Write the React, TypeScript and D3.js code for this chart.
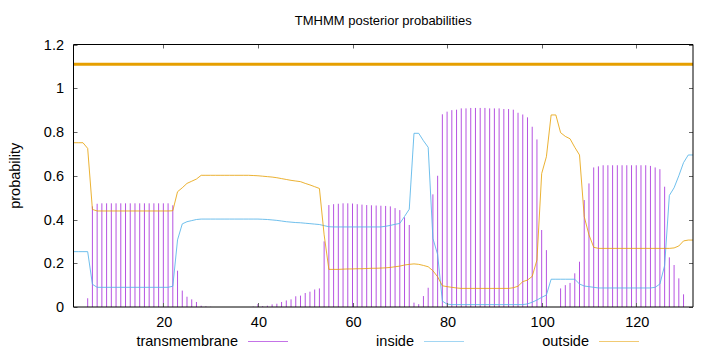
import React, { useEffect, useRef } from 'react';
import * as d3 from 'd3';

// posterior probabilities per residue (position 1..132)
const transmembrane = [
  0, 0, 0, 0.04, 0.46, 0.472, 0.474, 0.474, 0.474, 0.474,
  0.474, 0.474, 0.474, 0.474, 0.474, 0.474, 0.474, 0.474, 0.474, 0.474,
  0.474, 0.465, 0.166, 0.075, 0.047, 0.035, 0.023, 0.006, 0.003, 0.001,
  0, 0, 0, 0, 0, 0, 0, 0, 0.002, 0.014,
  0.004, 0.006, 0.012, 0.015, 0.023, 0.03, 0.035, 0.049, 0.052, 0.064,
  0.07, 0.08, 0.085, 0.3, 0.466, 0.47, 0.472, 0.474, 0.474, 0.473,
  0.47, 0.468, 0.466, 0.465, 0.464, 0.463, 0.462, 0.46, 0.452, 0.443,
  0.41, 0.375, 0.02, 0.013, 0.05, 0.088, 0.515, 0.6, 0.881, 0.893,
  0.9, 0.902, 0.908, 0.908, 0.91, 0.91, 0.91, 0.91, 0.908, 0.908,
  0.908, 0.905, 0.905, 0.902, 0.888, 0.88, 0.867, 0.824, 0.766, 0.352,
  0.26, 0, 0, 0.085, 0.1, 0.11, 0.154, 0.207, 0.489, 0.565,
  0.638, 0.643, 0.648, 0.648, 0.648, 0.648, 0.648, 0.648, 0.648, 0.648,
  0.648, 0.648, 0.645, 0.638, 0.63, 0.55, 0.227, 0.192, 0.131, 0.058,
  0, 0,
];

const inside = [
  0.253, 0.253, 0.253, 0.253, 0.104, 0.09, 0.09, 0.09, 0.09, 0.09,
  0.09, 0.09, 0.09, 0.09, 0.09, 0.09, 0.09, 0.09, 0.09, 0.09,
  0.09, 0.095, 0.307, 0.38, 0.39, 0.395, 0.4, 0.402, 0.402, 0.402,
  0.402, 0.402, 0.402, 0.402, 0.402, 0.402, 0.402, 0.402, 0.402, 0.402,
  0.401, 0.4, 0.398, 0.396, 0.393, 0.39, 0.388, 0.386, 0.385, 0.383,
  0.381, 0.379, 0.377, 0.372, 0.367, 0.366, 0.366, 0.366, 0.366, 0.366,
  0.366, 0.366, 0.366, 0.366, 0.366, 0.366, 0.369, 0.373, 0.378, 0.382,
  0.414, 0.447, 0.794, 0.794, 0.76, 0.73, 0.314, 0.24, 0.027, 0.013,
  0.011, 0.011, 0.011, 0.011, 0.011, 0.011, 0.011, 0.011, 0.011, 0.011,
  0.011, 0.011, 0.011, 0.011, 0.011, 0.011, 0.014, 0.022, 0.032, 0.044,
  0.055, 0.127, 0.127, 0.127, 0.127, 0.127, 0.127, 0.105, 0.096, 0.093,
  0.09, 0.087, 0.087, 0.087, 0.087, 0.087, 0.087, 0.087, 0.087, 0.087,
  0.087, 0.087, 0.087, 0.09, 0.105, 0.19, 0.51, 0.545, 0.6, 0.66,
  0.695, 0.695,
];

const outside = [
  0.751, 0.751, 0.751, 0.725, 0.446, 0.439, 0.439, 0.439, 0.439, 0.439,
  0.439, 0.439, 0.439, 0.439, 0.439, 0.439, 0.439, 0.439, 0.439, 0.439,
  0.439, 0.44, 0.527, 0.545, 0.565, 0.575, 0.585, 0.602, 0.602, 0.602,
  0.602, 0.602, 0.602, 0.602, 0.602, 0.602, 0.602, 0.602, 0.601, 0.6,
  0.598, 0.596, 0.594, 0.591, 0.587, 0.583, 0.579, 0.576, 0.573, 0.565,
  0.558, 0.55, 0.542, 0.33, 0.172, 0.172, 0.172, 0.173, 0.174, 0.174,
  0.175, 0.175, 0.176, 0.177, 0.177, 0.178, 0.179, 0.181, 0.184, 0.187,
  0.192, 0.195, 0.197, 0.195, 0.19, 0.184, 0.166, 0.138, 0.097, 0.093,
  0.09, 0.087, 0.085, 0.085, 0.085, 0.085, 0.085, 0.085, 0.085, 0.085,
  0.085, 0.085, 0.085, 0.088, 0.095, 0.116, 0.123, 0.14, 0.215, 0.61,
  0.687, 0.878, 0.878, 0.797, 0.78, 0.769, 0.73, 0.695, 0.413, 0.33,
  0.273, 0.268, 0.268, 0.268, 0.268, 0.268, 0.268, 0.268, 0.268, 0.268,
  0.268, 0.268, 0.268, 0.268, 0.268, 0.268, 0.268, 0.27, 0.279, 0.302,
  0.306, 0.306,
];

// predicted topology drawn above the curves
const topology = [{ start: 1, end: 132, region: 'outside' }];
const topologyLevel = 1.11;

const xTicks = [20, 40, 60, 80, 100, 120];
const yTicks = [0, 0.2, 0.4, 0.6, 0.8, 1, 1.2];

const COLORS = { transmembrane: '#9400d3', inside: '#56b4e9', outside: '#e69f00' };
const FONT = '"Liberation Sans", Arial, sans-serif';
const FS = '14.5px';

const App: React.FC = () => {
  const svgRef = useRef<SVGSVGElement>(null);

  useEffect(() => {
    if (!svgRef.current) return;
    const svg = d3.select(svgRef.current);
    svg.selectAll('*').remove();

    const left = 73.5, right = 693, top = 44.5, bottom = 307;
    const n = transmembrane.length;

    const x = d3.scaleLinear().domain([1, n]).range([left, right]);
    const y = d3.scaleLinear().domain([0, 1.2]).range([bottom, top]);

    // title
    svg.append('text')
      .attr('x', (left + right) / 2)
      .attr('y', 25)
      .attr('text-anchor', 'middle')
      .style('font-family', FONT)
      .style('font-size', '13px')
      .text('TMHMM posterior probabilities');

    // y label
    svg.append('text')
      .attr('transform', `translate(20, ${(top + bottom) / 2}) rotate(-90)`)
      .attr('text-anchor', 'middle')
      .style('font-family', FONT)
      .style('font-size', FS)
      .text('probability');

    // impulses for transmembrane
    const pos = d3.range(1, n + 1);
    svg.append('g')
      .selectAll('line')
      .data(pos.filter((i) => transmembrane[i - 1] > 0))
      .join('line')
      .attr('x1', (i) => x(i))
      .attr('x2', (i) => x(i))
      .attr('y1', y(0))
      .attr('y2', (i) => y(transmembrane[i - 1]))
      .attr('stroke', COLORS.transmembrane)
      .attr('stroke-opacity', 0.68)
      .attr('stroke-width', 1);

    const line = d3.line<number>().x((_, i) => x(i + 1)).y((d) => y(d));

    svg.append('path')
      .attr('d', line(inside) || '')
      .attr('fill', 'none')
      .attr('stroke', COLORS.inside)
      .attr('stroke-opacity', 0.85)
      .attr('stroke-width', 1);

    svg.append('path')
      .attr('d', line(outside) || '')
      .attr('fill', 'none')
      .attr('stroke', COLORS.outside)
      .attr('stroke-opacity', 0.8)
      .attr('stroke-width', 1);

    // topology bar
    topology.forEach((t) => {
      svg.append('line')
        .attr('x1', x(t.start))
        .attr('x2', x(t.end))
        .attr('y1', y(topologyLevel))
        .attr('y2', y(topologyLevel))
        .attr('stroke', COLORS[t.region as keyof typeof COLORS])
        .attr('stroke-width', 3);
    });

    // ticks (inward, mirrored)
    const tk = 4;
    const tg = svg.append('g').attr('stroke', '#666').attr('stroke-width', 1);
    yTicks.forEach((v) => {
      const yy = Math.round(y(v)) + 0.5;
      tg.append('line').attr('x1', left).attr('x2', left + tk).attr('y1', yy).attr('y2', yy);
      tg.append('line').attr('x1', right).attr('x2', right - tk).attr('y1', yy).attr('y2', yy);
    });
    xTicks.forEach((v) => {
      const xx = Math.round(x(v)) + 0.5;
      tg.append('line').attr('x1', xx).attr('x2', xx).attr('y1', bottom).attr('y2', bottom - tk);
      tg.append('line').attr('x1', xx).attr('x2', xx).attr('y1', top).attr('y2', top + tk);
    });

    // frame
    const fg = svg.append('g').attr('stroke', '#000').attr('stroke-width', 1);
    fg.append('line').attr('x1', left).attr('x2', left).attr('y1', top).attr('y2', bottom);
    fg.append('line').attr('x1', left).attr('x2', right).attr('y1', top).attr('y2', top);
    fg.append('line').attr('x1', right).attr('x2', right).attr('y1', top).attr('y2', bottom);
    fg.append('line').attr('x1', left).attr('x2', right).attr('y1', bottom).attr('y2', bottom);

    // tick labels
    yTicks.forEach((v) => {
      svg.append('text')
        .attr('x', 64)
        .attr('y', y(v))
        .attr('dy', '0.35em')
        .attr('text-anchor', 'end')
        .style('font-family', FONT)
        .style('font-size', FS)
        .text(String(v));
    });
    xTicks.forEach((v) => {
      svg.append('text')
        .attr('x', x(v) + 1)
        .attr('y', 327)
        .attr('text-anchor', 'middle')
        .style('font-family', FONT)
        .style('font-size', FS)
        .text(String(v));
    });

    // legend
    const legend = [
      { label: 'transmembrane', color: COLORS.transmembrane, end: 238 },
      { label: 'inside', color: COLORS.inside, end: 414 },
      { label: 'outside', color: COLORS.outside, end: 589 },
    ];
    legend.forEach((l) => {
      svg.append('text')
        .attr('x', l.end)
        .attr('y', 346)
        .attr('text-anchor', 'end')
        .style('font-family', FONT)
        .style('font-size', FS)
        .text(l.label);
      svg.append('line')
        .attr('x1', l.end + 10)
        .attr('x2', l.end + 50)
        .attr('y1', 341.5)
        .attr('y2', 341.5)
        .attr('stroke', l.color)
        .attr('stroke-opacity', 0.55)
        .attr('stroke-width', 1);
    });
  }, []);

  return (
    <svg
      ref={svgRef}
      width={720}
      height={352}
      style={{ position: 'absolute', left: 0, top: 0, background: '#fff' }}
    />
  );
};

export default App;
